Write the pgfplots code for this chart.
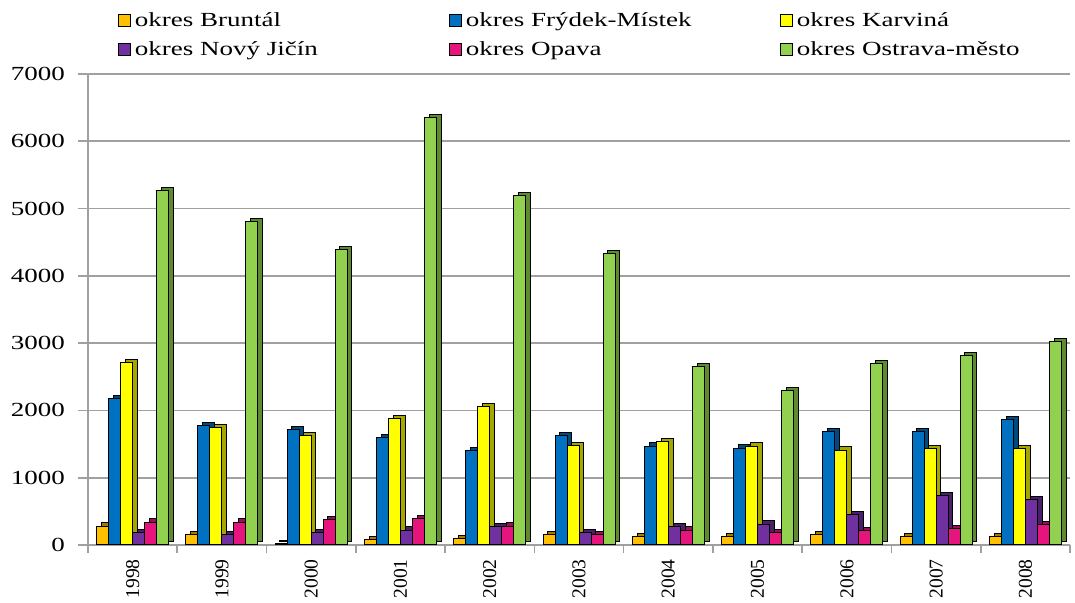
\documentclass[border=0pt]{standalone}
\usepackage{pgfplots}
\usepackage{pgfplotstable}
\usepackage{fontspec}
\setmainfont{Liberation Serif}[FakeStretch=1.35]
\newfontfamily\plainserif{Liberation Serif}
\pgfplotsset{compat=1.18}

\definecolor{cB}{HTML}{FFC000}\definecolor{cBd}{HTML}{A67C00}
\definecolor{cF}{HTML}{0070C0}\definecolor{cFd}{HTML}{004A80}
\definecolor{cK}{HTML}{FFFF00}\definecolor{cKd}{HTML}{A6A600}
\definecolor{cN}{HTML}{7030A0}\definecolor{cNd}{HTML}{4A1F6A}
\definecolor{cO}{HTML}{E6157E}\definecolor{cOd}{HTML}{990E54}
\definecolor{cS}{HTML}{92D050}\definecolor{cSd}{HTML}{5E8A30}
\definecolor{gridc}{HTML}{A0A0A0}

\pgfplotstableread{
x b f k n o s
0 280 2170 2710 190 340 5270
1 160 1770 1750 160 340 4810
2 20 1720 1630 190 380 4390
3 80 1600 1880 220 390 6350
4 100 1400 2060 270 280 5190
5 150 1620 1480 190 160 4330
6 130 1470 1540 270 220 2650
7 120 1440 1470 310 180 2290
8 150 1690 1410 450 210 2700
9 130 1680 1430 730 240 2810
10 130 1860 1430 670 300 3020
}\data

\pgfplotsset{
  sq legend/.style={legend image code/.code={\draw[##1, line width=0.5pt] (0pt,-3pt) rectangle (6pt,3pt);}},
  frontbar/.style={fill=#1, draw=black, line width=0.5pt, sq legend},
  backbar/.style={fill=#1, draw=black, line width=0.5pt, yshift=1.6pt, forget plot},
}

\begin{document}
\begin{tikzpicture}
\useasboundingbox (0,0) rectangle (537.5pt,301.5pt);
\begin{axis}[
  at={(44pt,29pt)}, anchor=south west,
  scale only axis, width=491pt, height=235.5pt,
  xmin=-0.5, xmax=10.5, ymin=0, ymax=7000,
  ybar, bar width=6pt, clip=false,
  axis x line*=bottom, axis y line*=left,
  axis line style={draw=gridc, line width=0.8pt, -},
  ytick={0,1000,...,7000},
  ymajorgrids, grid style={draw=gridc, line width=0.8pt},
  /pgf/number format/1000 sep={},
  /pgf/number format/assume math mode=true,
  tick align=outside,
  ytick style={draw=gridc, line width=0.8pt},
  major tick length=5pt,
  xtick={0,...,10},
  xticklabels={1998,1999,2000,2001,2002,2003,2004,2005,2006,2007,2008},
  xtick style={draw=none},
  minor xtick={-0.5,0.5,...,10.5},
  minor x tick style={draw=gridc, line width=0.8pt},
  minor tick length=4pt,
  xticklabel style={rotate=90, anchor=east, font=\plainserif\fontsize{9.8}{12}\selectfont, inner sep=0pt},
  xticklabel shift=2pt,
  yticklabel style={font=\fontsize{10}{12}\selectfont, xshift=-3pt},
  xtick pos=bottom, ytick pos=left,
  legend columns=3,
  legend cell align=left,
  legend style={draw=none, fill=none, at={(0.03,1.14)}, anchor=north west,
    font=\fontsize{10}{12}\selectfont, row sep=2pt, inner sep=0pt},
]
% back (depth) faces
\addplot[backbar=cBd, bar shift=-12.6pt] table[x=x,y=b]{\data};
\addplot[backbar=cFd, bar shift=-6.6pt] table[x=x,y=f]{\data};
\addplot[backbar=cKd, bar shift=-0.6pt] table[x=x,y=k]{\data};
\addplot[backbar=cNd, bar shift=5.4pt] table[x=x,y=n]{\data};
\addplot[backbar=cOd, bar shift=11.4pt] table[x=x,y=o]{\data};
\addplot[backbar=cSd, bar shift=17.4pt] table[x=x,y=s]{\data};
% front faces
\addplot[frontbar=cB, bar shift=-15pt] table[x=x,y=b]{\data};
\addlegendentry{\makebox[155pt][l]{okres Bruntál}}
\addplot[frontbar=cF, bar shift=-9pt] table[x=x,y=f]{\data};
\addlegendentry{\makebox[155pt][l]{okres Frýdek-Místek}}
\addplot[frontbar=cK, bar shift=-3pt] table[x=x,y=k]{\data};
\addlegendentry{okres Karviná}
\addplot[frontbar=cN, bar shift=3pt] table[x=x,y=n]{\data};
\addlegendentry{\makebox[155pt][l]{okres Nový Jičín}}
\addplot[frontbar=cO, bar shift=9pt] table[x=x,y=o]{\data};
\addlegendentry{\makebox[155pt][l]{okres Opava}}
\addplot[frontbar=cS, bar shift=15pt] table[x=x,y=s]{\data};
\addlegendentry{okres Ostrava-město}
\end{axis}
\end{tikzpicture}
\end{document}
